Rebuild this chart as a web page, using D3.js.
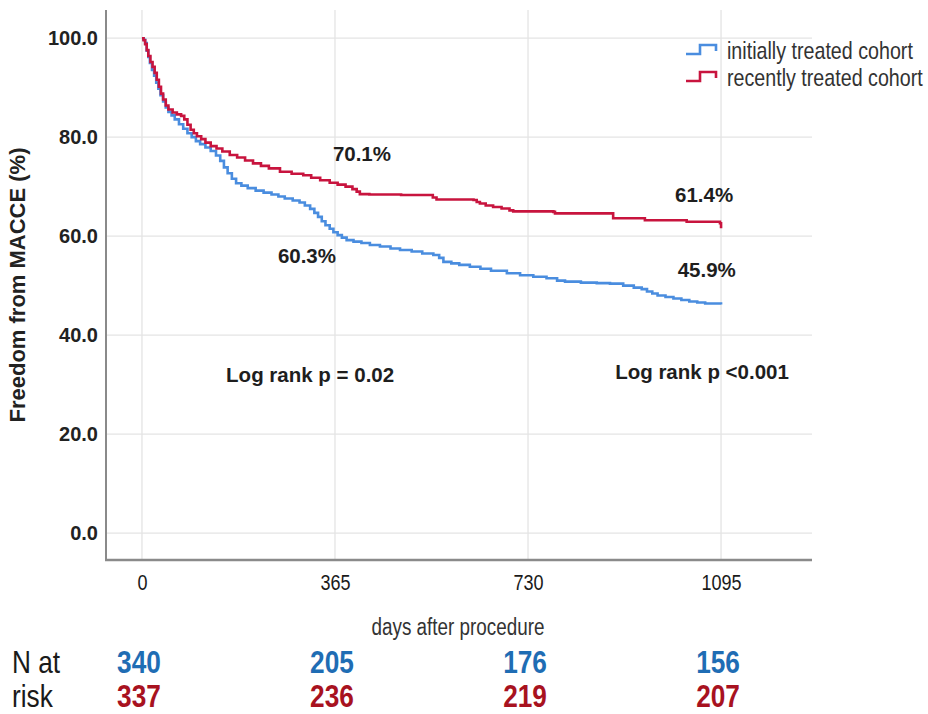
<!DOCTYPE html>
<html>
<head>
<meta charset="utf-8">
<script src="https://cdn.jsdelivr.net/npm/d3@7"></script>
<style>
  body { margin: 0; background: #fff; }
  svg { display: block; font-family: "Liberation Sans", Arial, sans-serif; }
</style>
</head>
<body>
<div id="chart"></div>
<script>
// days after procedure / freedom from MACCE (%)
var initialDays = [0,3,6,9,12,15,19,23,27,31,35,40,45,50,56,62,70,78,86,94,102,110,120,130,140,148,155,162,170,178,188,200,215,230,245,258,270,285,298,308,318,326,333,340,347,355,362,370,378,387,400,415,431,450,470,488,510,530,551,562,570,585,600,620,640,660,690,715,740,765,785,800,830,860,885,910,930,945,955,965,975,990,1005,1020,1035,1050,1065,1095];
var initialSurv = [100,99.7,99,97.5,96.2,95,93.6,92.4,91,89.8,88.5,87.2,86,85.1,84.4,83.6,82.6,81.7,80.8,80,79.2,78.6,77.9,77.2,76.3,75.2,73.9,72.7,71.6,70.7,70.2,69.7,69.2,68.8,68.4,68,67.6,67.2,66.8,66.2,65.5,64.7,63.9,63,62.2,61.5,60.8,60.2,59.7,59.2,58.9,58.6,58.2,57.9,57.5,57.2,56.9,56.5,56.2,55.6,54.8,54.5,54.2,53.8,53.4,53,52.5,52.1,51.8,51.5,51,50.8,50.6,50.5,50.4,50,49.6,49.3,48.8,48.4,48,47.7,47.4,47.1,46.8,46.6,46.4,46.2];

var recentDays = [0,3,6,9,12,16,20,24,28,32,36,40,45,50,58,66,74,80,86,92,98,104,112,120,130,141,152,166,180,195,210,225,240,261,283,305,320,337,355,370,385,398,406,412,430,490,545,550,557,627,633,639,650,664,680,695,702,778,781,888,891,951,1030,1093,1095];
var recentSurv = [100,99.6,98.8,97.6,96.4,95.2,94.2,93,91.6,90.2,88.8,87.6,86.4,85.6,85,84.6,84.3,83.6,82.5,81.5,80.8,80.2,79.6,78.9,78.2,77.7,77.1,76.4,75.9,75.3,74.7,74.2,73.7,73,72.6,72.3,71.8,71.3,70.8,70.4,70,69.5,69,68.5,68.4,68.3,68.3,67.8,67.4,67.3,66.9,66.6,66.2,65.9,65.6,65.2,65,64.9,64.6,64.6,63.6,63.2,62.9,62.6,61.6];

var seriesNames = ["initially treated cohort", "recently treated cohort"];
var seriesColors = ["#4a8ddf", "#c8143e"];
var riskColors = ["#1f6db4", "#a8121f"];

var xTicks = [0, 365, 730, 1095];
var yTicks = [0, 20, 40, 60, 80, 100];
var riskInitial = [340, 205, 176, 156];
var riskRecent = [337, 236, 219, 207];

// annotations placed in data units
var annoText = ["70.1%", "60.3%", "61.4%", "45.9%", "Log rank p = 0.02", "Log rank p <0.001"];
var annoDay = [416, 312, 1063, 1068, 318, 1059];
var annoVal = [75.2, 54.5, 66.9, 51.8, 30.5, 31.1];

var W = 928, H = 714;
var NARROW = 0.82;   // mimic Arial Narrow by squeezing Liberation Sans
var svg = d3.select("#chart").append("svg").attr("width", W).attr("height", H);

var x = d3.scaleLinear().domain([-68, 1267]).range([106, 812]);
var y = d3.scaleLinear().domain([-5.45, 105.7]).range([560, 10]);

// narrow text helper
function narrowText(parent, tx, ty, str, size, anchor){
    return parent.append("text")
        .attr("transform", "translate(" + tx + "," + ty + ") scale(" + NARROW + ",1)")
        .attr("text-anchor", anchor || "start")
        .attr("font-size", size)
        .text(str);
}

// gridlines
svg.append("g").selectAll("line").data(yTicks).join("line")
    .attr("x1", 106).attr("x2", 812)
    .attr("y1", d => y(d)).attr("y2", d => y(d))
    .attr("stroke", "#e4e4e4").attr("stroke-width", 1.3);
svg.append("g").selectAll("line").data(xTicks).join("line")
    .attr("x1", d => x(d)).attr("x2", d => x(d))
    .attr("y1", 10).attr("y2", 560)
    .attr("stroke", "#e4e4e4").attr("stroke-width", 1.3);

// axes frame (left + bottom)
svg.append("line").attr("x1", 106).attr("x2", 106).attr("y1", 10).attr("y2", 561)
    .attr("stroke", "#8a8a8a").attr("stroke-width", 2);
svg.append("line").attr("x1", 105).attr("x2", 812).attr("y1", 560).attr("y2", 560)
    .attr("stroke", "#8a8a8a").attr("stroke-width", 2.5);

// y tick labels
var yAxis = d3.axisLeft(y).tickValues(yTicks).tickFormat(d3.format(".1f")).tickSize(0).tickPadding(8);
var gy = svg.append("g").attr("transform", "translate(106,0)").call(yAxis);
gy.select(".domain").remove();
gy.selectAll("text").attr("font-size", 20).attr("font-weight", "bold")
    .attr("fill", "#222").attr("font-family", "Liberation Sans, Arial, sans-serif");

// x tick labels (narrow)
var xAxis = d3.axisBottom(x).tickValues(xTicks).tickFormat(d3.format("d")).tickSize(0);
var gx = svg.append("g").attr("transform", "translate(0,560)").call(xAxis);
gx.select(".domain").remove();
gx.selectAll(".tick text")
    .attr("font-size", 22).attr("fill", "#1a1a1a").attr("font-family", "Liberation Sans, Arial, sans-serif")
    .attr("y", 0).attr("dy", null)
    .attr("transform", "translate(0,30) scale(" + NARROW + ",1)");

// axis titles
svg.append("text").attr("transform", "translate(25,285) rotate(-90)")
    .attr("text-anchor", "middle").attr("font-size", 22).attr("font-weight", "bold")
    .attr("fill", "#222").text("Freedom from MACCE (%)");
narrowText(svg, 458, 635, "days after procedure", 23, "middle").attr("fill", "#333");

// curves
var line = d3.line().x(d => x(d[0])).y(d => y(d[1])).curve(d3.curveStepAfter);
var curves = [d3.zip(initialDays, initialSurv), d3.zip(recentDays, recentSurv)];
svg.append("g").selectAll("path").data(curves).join("path")
    .attr("d", line).attr("fill", "none")
    .attr("stroke", (d, i) => seriesColors[i]).attr("stroke-width", 2.6);

// annotations
svg.append("g").selectAll("text").data(annoText).join("text")
    .attr("x", (d, i) => x(annoDay[i])).attr("y", (d, i) => y(annoVal[i]))
    .attr("text-anchor", "middle").attr("font-size", 20.5).attr("font-weight", "bold")
    .attr("fill", "#1e1e1e").text(d => d);

// legend
var leg = svg.append("g").attr("transform", "translate(686,0)");
seriesNames.forEach(function(name, i){
    var yy = 52 + i * 27;
    leg.append("path")
        .attr("d", "M0," + (yy + 2) + "H14V" + (yy - 7) + "H30V" + (yy - 1))
        .attr("fill", "none").attr("stroke", seriesColors[i]).attr("stroke-width", 2.6);
    narrowText(leg, 41, yy + 7, name, 24).attr("fill", "#333");
});

// number at risk table
var rowY = [673, 707];
narrowText(svg, 12, rowY[0], "N at", 32).attr("fill", "#1a1a1a");
narrowText(svg, 12, rowY[1], "risk", 32).attr("fill", "#1a1a1a");
[riskInitial, riskRecent].forEach(function(row, r){
    var g = svg.append("g");
    row.forEach(function(v, i){
        narrowText(g, x(xTicks[i]) - 3, rowY[r], v, 32, "middle")
            .attr("font-weight", "bold").attr("fill", riskColors[r]);
    });
});
</script>
</body>
</html>
